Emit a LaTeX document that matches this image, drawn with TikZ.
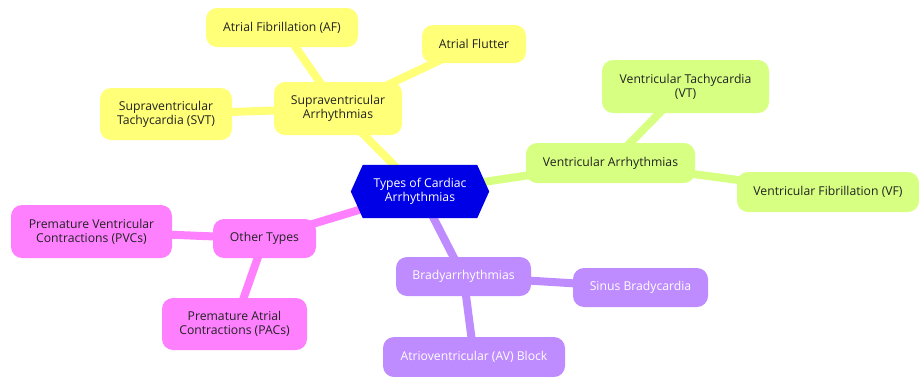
\documentclass[tikz,border=0pt]{standalone}
\usepackage{fontspec}
\setmainfont{Open Sans}
\usetikzlibrary{backgrounds}
\definecolor{cblue}{RGB}{0,0,230}
\definecolor{cyel}{RGB}{255,255,120}
\definecolor{cgreen}{RGB}{215,255,130}
\definecolor{cpink}{RGB}{255,128,255}
\definecolor{cpurp}{RGB}{190,140,255}
\definecolor{ctext}{RGB}{34,34,34}
\begin{document}
\begin{tikzpicture}[x=1pt,y=-1pt,
  box/.style={rounded corners=11pt, inner sep=0pt, align=center, font=\fontsize{12.2}{14}\selectfont, text=ctext},
  yel/.style={box, fill=cyel},
  grn/.style={box, fill=cgreen},
  pnk/.style={box, fill=cpink},
  prp/.style={box, fill=cpurp, text=white},
  link/.style={line width=8pt}
]
\useasboundingbox (0,0) rectangle (919,376);
% center
\node[inner sep=0pt, minimum width=114pt, minimum height=53pt, align=center, text=white, font=\fontsize{12.2}{14}\selectfont] (c) at (420,191.5) {Types of Cardiac\\Arrhythmias};
% level 1
\node[yel, minimum width=128pt, minimum height=53pt] (sa) at (338,108.5) {Supraventricular\\Arrhythmias};
\node[grn, minimum width=169pt, minimum height=40pt] (va) at (610.5,163) {Ventricular Arrhythmias};
\node[pnk, minimum width=103pt, minimum height=39pt] (ot) at (264.5,238.5) {Other Types};
\node[prp, minimum width=135pt, minimum height=39pt] (br) at (463.5,276.5) {Bradyarrhythmias};
% level 2
\node[yel, minimum width=152pt, minimum height=39pt] (af) at (282,27.5) {Atrial Fibrillation (AF)};
\node[yel, minimum width=104pt, minimum height=38pt] (fl) at (474,44) {Atrial Flutter};
\node[yel, minimum width=132pt, minimum height=52pt] (svt) at (166,114) {Supraventricular\\Tachycardia (SVT)};
\node[grn, minimum width=167pt, minimum height=53pt] (vt) at (685.5,86.5) {Ventricular Tachycardia\\(VT)};
\node[grn, minimum width=182pt, minimum height=40pt] (vf) at (828,192) {Ventricular Fibrillation (VF)};
\node[pnk, minimum width=161pt, minimum height=53pt] (pvc) at (91.5,231.5) {Premature Ventricular\\Contractions (PVCs)};
\node[pnk, minimum width=145pt, minimum height=52pt] (pac) at (234.5,324) {Premature Atrial\\Contractions (PACs)};
\node[prp, minimum width=135pt, minimum height=39pt] (sb) at (640.5,287.5) {Sinus Bradycardia};
\node[prp, minimum width=182pt, minimum height=40pt] (av) at (474,357) {Atrioventricular (AV) Block};
\begin{scope}[on background layer]
  \draw[link, cyel] (c.center) -- (sa.center);
  \draw[link, cgreen] (c.center) -- (va.center);
  \draw[link, cpink] (c.center) -- (ot.center);
  \draw[link, cpurp] (c.center) -- (br.center);
  \draw[link, cyel] (sa.center) -- (af.center);
  \draw[link, cyel] (sa.center) -- (fl.center);
  \draw[link, cyel] (sa.center) -- (svt.center);
  \draw[link, cgreen] (va.center) -- (vt.center);
  \draw[link, cgreen] (va.center) -- (vf.center);
  \draw[link, cpink] (ot.center) -- (pvc.center);
  \draw[link, cpink] (ot.center) -- (pac.center);
  \draw[link, cpurp] (br.center) -- (sb.center);
  \draw[link, cpurp] (br.center) -- (av.center);
  \fill[cblue] (c.north west) -- (c.north east) -- ([xshift=12pt]c.east) -- (c.south east) -- (c.south west) -- ([xshift=-12pt]c.west) -- cycle;
\end{scope}
\end{tikzpicture}
\end{document}
